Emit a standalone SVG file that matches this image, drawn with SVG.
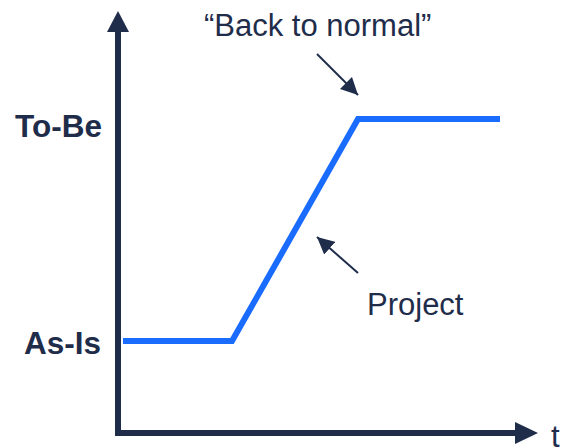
<svg xmlns="http://www.w3.org/2000/svg" width="563" height="448" viewBox="0 0 563 448">
<style>
.axis{stroke:#1f2d4b;stroke-width:6;fill:none}
.head{fill:#1f2d4b}
.ptr{stroke:#1f2d4b;stroke-width:2;fill:none}
.curve{stroke:#1a6cff;stroke-width:6;fill:none;stroke-linejoin:miter}
.lbl{font-family:"Liberation Sans",Arial,sans-serif;fill:#1f2d4b}
.b{font-weight:bold;font-size:31.5px}
.n{font-size:31px}
</style>
<defs>
<marker id="ah" viewBox="0 0 10 10" refX="10" refY="5" markerWidth="8.5" markerHeight="8.5" markerUnits="strokeWidth" orient="auto">
<path d="M0,0 L10,5 L0,10 z" fill="#1f2d4b"/>
</marker>
</defs>
<rect width="563" height="448" fill="#ffffff"/>
<g id="axes">
<path class="axis" d="M118,30 V433 H517"/>
<polygon class="head" points="118,11 107,32 129,32"/>
<polygon class="head" points="538,433 515,422 515,444"/>
</g>
<g id="curve">
<polyline class="curve" points="123,341 232,341 358,119 500,119"/>
</g>
<g id="connectors">
<line class="ptr" x1="317" y1="54" x2="358" y2="95" marker-end="url(#ah)"/>
<line class="ptr" x1="358" y1="273" x2="317" y2="237" marker-end="url(#ah)"/>
</g>
<g id="label-tobe"><text class="lbl b" x="102" y="137" text-anchor="end">To-Be</text></g>
<g id="label-asis"><text class="lbl b" x="101" y="354" text-anchor="end">As-Is</text></g>
<g id="label-back"><text class="lbl n" x="204" y="36">“Back to normal”</text></g>
<g id="label-project"><text class="lbl n" x="367" y="315">Project</text></g>
<g id="label-t"><text class="lbl n" x="551" y="447">t</text></g>
</svg>
